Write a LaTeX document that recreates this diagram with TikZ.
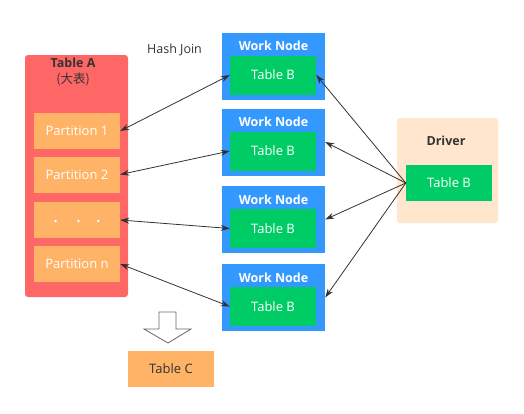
\documentclass[tikz,border=0pt]{standalone}
\usepackage{fontspec}
\setmainfont{Open Sans}
\newfontfamily\cjk{Noto Sans CJK SC}
\usetikzlibrary{arrows.meta}
\definecolor{tred}{HTML}{FF6666}
\definecolor{torange}{HTML}{FFB366}
\definecolor{tblue}{HTML}{3399FF}
\definecolor{tgreen}{HTML}{00CC66}
\definecolor{tdrv}{HTML}{FFE6CC}
\definecolor{tdark}{HTML}{333333}
\definecolor{tgray}{HTML}{666666}
\tikzset{
  box/.style={rectangle, inner sep=0pt, draw=none},
  part/.style={box, fill=torange, minimum width=86pt, minimum height=36pt, text=white, font=\fontsize{13}{15}\selectfont},
  wnode/.style={box, fill=tblue, minimum width=103pt, minimum height=67pt},
  tblb/.style={box, fill=tgreen, minimum width=86pt, minimum height=39pt, text=white, font=\fontsize{13}{15}\selectfont},
  wlabel/.style={text=white, font=\bfseries\fontsize{12.5}{14}\selectfont, inner sep=0pt},
  conn/.style={draw=tdark, line width=0.8pt, -{Stealth[length=9pt,width=6pt]}},
  dconn/.style={draw=tdark, line width=0.8pt, {Stealth[length=9pt,width=6pt]}-{Stealth[length=9pt,width=6pt]}}
}
\begin{document}
\begin{tikzpicture}[x=1pt,y=-1pt]
\useasboundingbox (0,0) rectangle (524,413);
% Table A
\node[box, fill=tred, rounded corners=3pt, minimum width=103pt, minimum height=242pt] (ta) at (76.5,176) {};
\node[inner sep=0pt, text=tdark, font=\bfseries\fontsize{12.5}{14}\selectfont] (tal) at (73,63) {Table A};
\node[inner sep=0pt, text=tdark, font=\cjk\fontsize{12.5}{14}\selectfont] (tal2) at (73,79) {(大表)};
\node[part] (p1) at (77,131) {Partition 1};
\node[part] (p2) at (77,174.5) {Partition 2};
\node[part, font=\bfseries\fontsize{14}{15}\selectfont] (p3) at (77,220) {\raisebox{-5pt}{.\hspace{19pt}.\hspace{16pt}.}};
\node[part] (pn) at (77,264) {Partition n};
% Hash Join
\node[inner sep=0pt, text=tdark, font=\fontsize{12.5}{14}\selectfont] (hj) at (174.5,50) {Hash Join};
% Work nodes
\foreach \i/\y in {1/66,2/142,3/219.5,4/297.5}{
  \node[wnode] (wn\i) at (273.5,\y) {};
  \node[wlabel] (wl\i) at (273.5,\y-20) {Work Node};
  \node[tblb] (wb\i) at (273,\y+9) {Table B};
}
% Driver
\node[box, fill=tdrv, rounded corners=3pt, minimum width=101pt, minimum height=105pt] (drv) at (447.5,170.5) {};
\node[inner sep=0pt, text=tdark, font=\bfseries\fontsize{12.5}{14}\selectfont] (drvl) at (446,141) {Driver};
\node[box, fill=tgreen, minimum width=86pt, minimum height=36pt, text=white, font=\fontsize{13}{15}\selectfont] (db) at (449,183) {Table B};
% Driver connectors
\draw[conn] (db.west) -- (wb1.east);
\draw[conn] (db.west) -- (wn2.east);
\draw[conn] (db.west) -- (wn3.east);
\draw[conn] (db.west) -- (wn4.east);
% Partition connectors
\draw[dconn] (p1.east) -- (wb1.west);
\draw[dconn] (p2.east) -- (wb2.west);
\draw[dconn] (p3.east) -- (wb3.west);
\draw[dconn] (pn.east) -- (wb4.west);
% Block arrow
\draw[draw=tgray, fill=white, line width=0.8pt] (159,312) -- (176,312) -- (176,329) -- (191,329) -- (168,343) -- (144,329) -- (159,329) -- cycle;
% Table C
\node[box, fill=torange, minimum width=86pt, minimum height=36pt, text=tdark, font=\fontsize{13}{15}\selectfont] (tc) at (171,369) {Table C};
\end{tikzpicture}
\end{document}
